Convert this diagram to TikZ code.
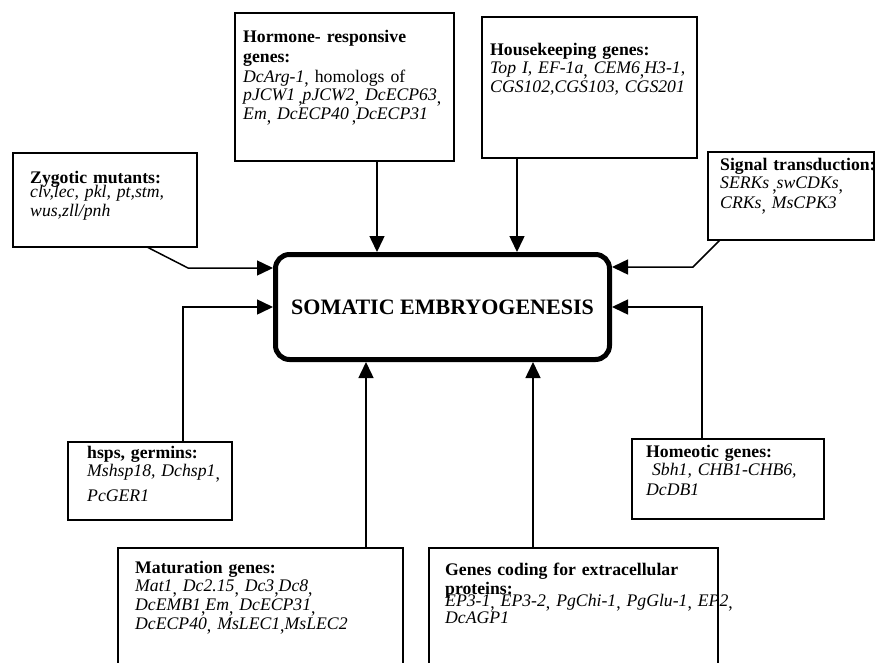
\documentclass[tikz,border=0pt]{standalone}
\usepackage{fontspec}
\setmainfont{Liberation Serif}
\usetikzlibrary{arrows.meta}
\newcommand{\lcm}{\raisebox{-2.5pt}{,}}
\begin{document}
\begin{tikzpicture}[x=1pt,y=-1pt,
  gbox/.style={draw, line width=1.6pt, inner sep=0pt, outer sep=0pt},
  gtxt/.style={anchor=north west, inner sep=0pt, align=left, text width=320pt, font=\fontsize{17.7}{18.7}\selectfont},
  conn/.style={line width=1.5pt},
  arr/.style={-{Triangle[length=16pt,width=15pt]}},
  core/.style={draw, line width=5pt, rounded corners=14pt, minimum width=334pt, minimum height=105pt, inner sep=0pt, font=\bfseries\fontsize{22}{26}\selectfont}]
\useasboundingbox (0,0) rectangle (876,662);
\fill[white] (0,0) rectangle (876,662);
\clip (0,0) rectangle (876,662);

% centre
\node[core] (core) at (442.5,307) {SOMATIC EMBRYOGENESIS};

% boxes
\node[gbox, minimum width=184pt, minimum height=94pt] (zyg) at (105,200) {};
\node[gbox, minimum width=219pt, minimum height=148pt] (horm) at (344.5,87) {};
\node[gbox, minimum width=215pt, minimum height=141pt] (house) at (589.5,87.5) {};
\node[gbox, minimum width=166pt, minimum height=88pt] (sig) at (791,196) {};
\node[gbox, minimum width=164pt, minimum height=78pt] (hsps) at (150,481) {};
\node[gbox, minimum width=192pt, minimum height=80pt] (homeo) at (728,479) {};
\node[gbox, minimum width=285pt, minimum height=132pt] (mat) at (260.5,614) {};
\node[gbox, minimum width=289pt, minimum height=132pt] (genes) at (573.5,614) {};

% texts
\node[gtxt] (zyg-t) at (30,170.7) {\textbf{Zygotic mutants:}\\[-4pt]
  \textit{clv,lec, pkl, pt,stm,}\\
  \textit{wus,zll/pnh}};
\node[gtxt] (horm-t) at (243,29.7) {\textbf{Hormone- responsive}\\[1.3pt]
  \textbf{genes:}\\[1.3pt]
  \textit{DcArg-1}\lcm{} homologs of\\
  \textit{pJCW1}\,\lcm\textit{pJCW2}\lcm{} \textit{DcECP63}\lcm\\
  \textit{Em}\lcm{} \textit{DcECP40}\,\lcm\textit{DcECP31}};
\node[gtxt] (house-t) at (490,42.7) {\textbf{Housekeeping genes:}\\
  \textit{Top I, EF-1a}\lcm{} \textit{CEM6}\lcm\textit{H3-1},\\
  \textit{CGS102,CGS103, CGS201}};
\node[gtxt] (sig-t) at (720,157.7) {\textbf{Signal transduction:}\\
  \textit{SERKs}\,\lcm\textit{swCDKs}\lcm\\[1pt]
  \textit{CRKs}\lcm{} \textit{MsCPK3}};
\node[gtxt] (hsps-t) at (87,445.7) {\textbf{hsps, germins:}\\
  \textit{Mshsp18, Dchsp1}\lcm\\[6pt]
  \textit{PcGER1}};
\node[gtxt] (homeo-t) at (646,444.7) {\textbf{Homeotic genes:}\\
  \textit{\ Sbh1, CHB1-CHB6,}\\[1pt]
  \textit{DcDB1}};
\node[gtxt] (mat-t) at (135,560.7) {\textbf{Maturation genes:}\\
  \textit{Mat1}\lcm{} \textit{Dc2.15}\lcm{} \textit{Dc3}\lcm\textit{Dc8}\lcm\\
  \textit{DcEMB1}\lcm\textit{Em}\lcm{} \textit{DcECP31}\lcm\\
  \textit{DcECP40}\lcm{} \textit{MsLEC1}\lcm\textit{MsLEC2}};
\node[gtxt] (genes-t) at (445,562.7) {\textbf{Genes coding for extracellular}\\
  \textbf{proteins:}\\[-6.5pt]
  \textit{EP3-1}\lcm{} \textit{EP3-2}\lcm{} \textit{PgChi-1}\lcm{} \textit{PgGlu-1}\lcm{} \textit{EP2}\lcm\\[-1pt]
  \textit{DcAGP1}};

% connectors
\coordinate (c1) at (377,0);
\coordinate (c2) at (517,0);
\coordinate (c3) at (366,0);
\coordinate (c4) at (533,0);
\draw[conn,arr] (horm.south -| c1) -- (core.north -| c1);
\draw[conn,arr] (house.south -| c2) -- (core.north -| c2);
\draw[conn,arr] (mat.north -| c3) -- (core.south -| c3);
\draw[conn,arr] (genes.north -| c4) -- (core.south -| c4);

\coordinate (zs) at (147,0);
\coordinate (zb) at (188,268);
\draw[conn,arr] (zyg.south -| zs) -- (zb) -- (zb -| core.west);

\coordinate (ss) at (720,0);
\coordinate (sb) at (693,267);
\draw[conn,arr] (sig.south -| ss) -- (sb) -- (sb -| core.east);

\coordinate (hb) at (702,307);
\draw[conn,arr] (homeo.north -| hb) -- (hb) -- (hb -| core.east);

\coordinate (pb) at (183,307);
\draw[conn,arr] (hsps.north -| pb) -- (pb) -- (pb -| core.west);
\end{tikzpicture}
\end{document}
